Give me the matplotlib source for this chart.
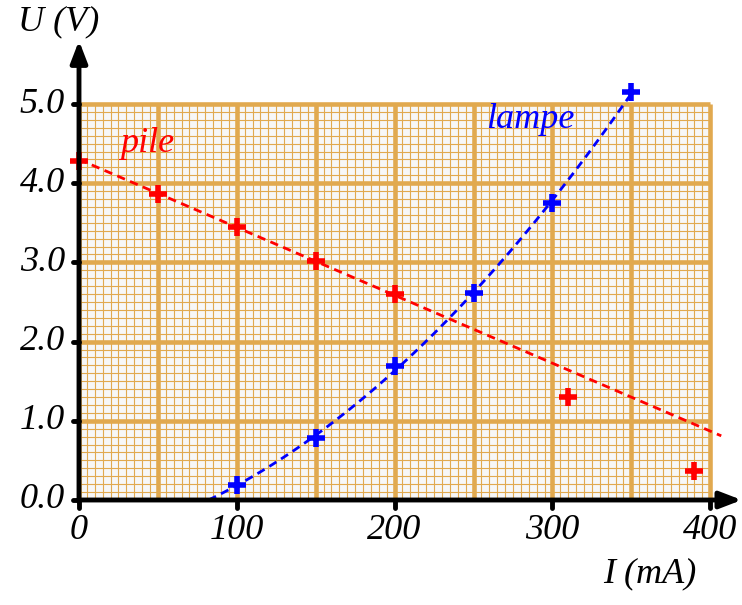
import numpy as np
import matplotlib
matplotlib.use("Agg")
import matplotlib.pyplot as plt

# mesures : pile (rouge) et lampe (bleu)
pile_I = [0, 50, 100, 150, 200, 310, 390]
pile_U = [4.28, 3.86, 3.45, 3.02, 2.60, 1.30, 0.37]
# droite tracee a la main pour la pile (extremites lues)
pile_droite_I = [0, 407]
pile_droite_U = [4.30, 0.81]

lampe_I = [100, 150, 200, 250, 300, 350]
lampe_U = [0.19, 0.78, 1.69, 2.61, 3.75, 5.15]

x_ticks = [0, 100, 200, 300, 400]
y_ticks = [0.0, 1.0, 2.0, 3.0, 4.0, 5.0]

ORANGE = "#e1a94f"
FONT = "Liberation Serif"


def main():
    W, H = 742, 605
    fig = plt.figure(figsize=(W / 100, H / 100), dpi=100)
    # origine a (79, 500) px, 1.578 px/mA, 79.2 px/V
    x0, y0 = 79, 500
    sx, sy = 1.578, 79.2
    xmax, ymax = 420, 5.9
    ax = fig.add_axes([x0 / W, (H - y0) / H, xmax * sx / W, ymax * sy / H])
    ax.set_xlim(0, xmax)
    ax.set_ylim(0, ymax)
    ax.axis("off")

    # papier millimetre
    ax.add_patch(plt.Rectangle((0, 0), 400, 5.0, color="#f7f7f7", zorder=0))
    for x in np.arange(0, 401, 5):
        lw = 3.3 if x % 50 == 0 else 0.8
        ax.plot([x, x], [0, 5.0], color=ORANGE, lw=lw, zorder=1,
                solid_capstyle="butt")
    for y in np.arange(0, 51) / 10:
        lw = 3.3 if round(y * 10) % 10 == 0 else 0.8
        ax.plot([0, 400], [y, y], color=ORANGE, lw=lw, zorder=1,
                solid_capstyle="butt")

    # axes avec fleches
    ax.annotate("", xy=(xmax, 0), xytext=(-0.5, 0),
                arrowprops=dict(arrowstyle="-|>,head_length=1.3,head_width=0.5",
                                lw=3.5, color="black", shrinkA=0, shrinkB=0),
                annotation_clip=False, zorder=5)
    ax.annotate("", xy=(0, 5.8), xytext=(0, -0.02),
                arrowprops=dict(arrowstyle="-|>,head_length=1.3,head_width=0.5",
                                lw=3.5, color="black", shrinkA=0, shrinkB=0),
                annotation_clip=False, zorder=5)

    for x in x_ticks:
        ax.plot([x, x], [0, -0.1], color="black", lw=3.5, clip_on=False,
                solid_capstyle="round", zorder=5)
        ax.text(x, -0.18, f"{x}", ha="center", va="top", fontsize=26,
                style="italic", family=FONT, clip_on=False)
    for y in y_ticks:
        ax.plot([0, -4], [y, y], color="black", lw=3.5, clip_on=False,
                solid_capstyle="round", zorder=5)
        ax.text(-9, y, f"{y:.1f}", ha="right", va="center", fontsize=26,
                style="italic", family=FONT, clip_on=False)

    ax.text(362, -0.93, "I (mA)", ha="center", va="center", fontsize=26,
            style="italic", family=FONT, clip_on=False)
    ax.text(-13, 6.04, "U (V)", ha="center", va="center", fontsize=26,
            style="italic", family=FONT, clip_on=False)

    # pile
    ax.plot(pile_droite_I, pile_droite_U, color="red", lw=2, ls=(0, (3, 2)),
            zorder=3, clip_on=False)
    ax.plot(pile_I, pile_U, ls="none", marker="+", ms=13, mew=4, color="red",
            zorder=4, clip_on=False)
    ax.text(43, 4.5, "pile", color="red", fontsize=26, style="italic",
            family=FONT, ha="center", va="center")

    # lampe : courbe ajustee
    c = np.polyfit(lampe_I, lampe_U, 2)
    racines = np.roots(c)
    debut = min(r.real for r in racines if 0 < r.real < 100)
    xs = np.linspace(debut, lampe_I[-1], 200)
    ax.plot(xs, np.polyval(c, xs), color="#0000ff", lw=2, ls=(0, (3, 2)),
            zorder=3, clip_on=False)
    ax.plot(lampe_I, lampe_U, ls="none", marker="+", ms=13, mew=4,
            color="#0000ff", zorder=4, clip_on=False)
    ax.text(286, 4.8, "lampe", color="#0000ff", fontsize=26, style="italic",
            family=FONT, ha="center", va="center")

    fig.savefig("out.png", dpi=100)


if __name__ == "__main__":
    main()
